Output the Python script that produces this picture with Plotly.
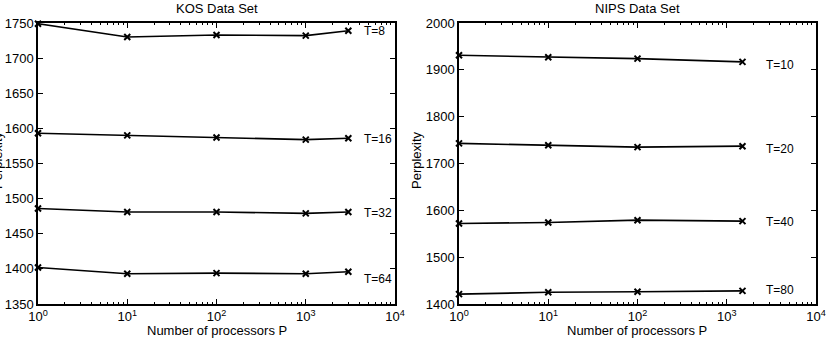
import plotly.graph_objects as go

# ---- data ----
kos_p = [1, 10, 100, 1000, 3000]
kos_series = {
    "T=8": [1749, 1730, 1733, 1732, 1739],
    "T=16": [1593, 1590, 1587, 1584, 1586],
    "T=32": [1486, 1481, 1481, 1479, 1481],
    "T=64": [1402, 1393, 1394, 1393, 1396],
}
kos_label_y = [1739, 1585, 1480, 1385]

nips_p = [1, 10, 100, 1500]
nips_series = {
    "T=10": [1931, 1927, 1924, 1917],
    "T=20": [1743, 1739, 1735, 1737],
    "T=40": [1572, 1574, 1579, 1577],
    "T=80": [1421, 1425, 1426, 1428],
}
nips_label_y = [1911, 1730, 1576, 1429]

x_tickvals = [1, 10, 100, 1000, 10000]
x_ticktext = ["10<sup>0</sup>", "10<sup>1</sup>", "10<sup>2</sup>", "10<sup>3</sup>", "10<sup>4</sup>"]
minor_vals = [m * 10 ** d for d in range(4) for m in range(2, 10)]

FONT = "Liberation Sans, Arial, sans-serif"
fig = go.Figure()

line = dict(color="black", width=1.6)
marker = dict(symbol="x-thin", size=6, color="black", line=dict(color="black", width=2))

for name, ys in kos_series.items():
    fig.add_trace(go.Scatter(x=kos_p, y=ys, mode="lines+markers", line=line, marker=marker,
                             xaxis="x", yaxis="y", showlegend=False, cliponaxis=False))
for name, ys in nips_series.items():
    fig.add_trace(go.Scatter(x=nips_p, y=ys, mode="lines+markers", line=line, marker=marker,
                             xaxis="x2", yaxis="y2", showlegend=False, cliponaxis=False))

annotations = []
for name, ly in zip(kos_series.keys(), kos_label_y):
    annotations.append(dict(x=3.63, y=ly, xref="x", yref="y", text=name, showarrow=False,
                            xanchor="left", yanchor="middle", font=dict(size=12, color="black", family=FONT)))
for name, ly in zip(nips_series.keys(), nips_label_y):
    annotations.append(dict(x=3.42, y=ly, xref="x2", yref="y2", text=name, showarrow=False,
                            xanchor="left", yanchor="middle", font=dict(size=12, color="black", family=FONT)))

# titles
W, H = 826, 338
L, R, T, B = 38, 10, 23, 34
pw = W - L - R
d1 = [0, (395 - L) / pw]
d2 = [(459 - L) / pw, 1]

def px_to_paper_x(px):
    return (px - L) / pw

def px_to_paper_y(py):
    return (H - B - py) / (H - T - B)

for txt, cx in [("KOS Data Set", 217), ("NIPS Data Set", 637)]:
    annotations.append(dict(x=px_to_paper_x(cx), y=px_to_paper_y(9), xref="paper", yref="paper",
                            text=txt, showarrow=False, xanchor="center", yanchor="middle",
                            font=dict(size=13, color="black", family=FONT)))
for cx in [217, 637]:
    annotations.append(dict(x=px_to_paper_x(cx), y=px_to_paper_y(330), xref="paper", yref="paper",
                            text="Number of processors P", showarrow=False, xanchor="center", yanchor="middle",
                            font=dict(size=13, color="black", family=FONT)))
for cx in [-3, 416]:
    annotations.append(dict(x=px_to_paper_x(cx), y=px_to_paper_y(160), xref="paper", yref="paper",
                            text="Perplexity", showarrow=False, xanchor="center", yanchor="middle",
                            textangle=-90, font=dict(size=13, color="black", family=FONT)))

xcommon = dict(type="log", range=[0, 4], tickvals=x_tickvals, ticktext=x_ticktext,
               ticks="inside", ticklen=5, tickwidth=1, tickcolor="black",
               showline=True, linecolor="black", linewidth=1.5, mirror="allticks",
               showgrid=False, zeroline=False, automargin=False,
               minor=dict(tickvals=minor_vals, ticks="inside", ticklen=2.5, tickcolor="black", tickwidth=1),
               tickfont=dict(size=13, color="black", family=FONT))
ycommon = dict(ticks="inside", ticklen=5, tickwidth=1, tickcolor="black",
               showline=True, linecolor="black", linewidth=1.5, mirror="allticks",
               showgrid=False, zeroline=False, automargin=False,
               tickfont=dict(size=13, color="black", family=FONT))

fig.update_layout(
    width=W, height=H,
    margin=dict(l=L, r=R, t=T, b=B, pad=0, autoexpand=False),
    paper_bgcolor="white", plot_bgcolor="white",
    font=dict(family=FONT, color="black"),
    xaxis=dict(domain=d1, anchor="y", **xcommon),
    xaxis2=dict(domain=d2, anchor="y2", **xcommon),
    yaxis=dict(domain=[0, 1], anchor="x", range=[1350, 1750], dtick=50, **ycommon),
    yaxis2=dict(domain=[0, 1], anchor="x2", range=[1400, 2000], dtick=100, **ycommon),
    annotations=annotations,
)

fig.write_html("out.html")
